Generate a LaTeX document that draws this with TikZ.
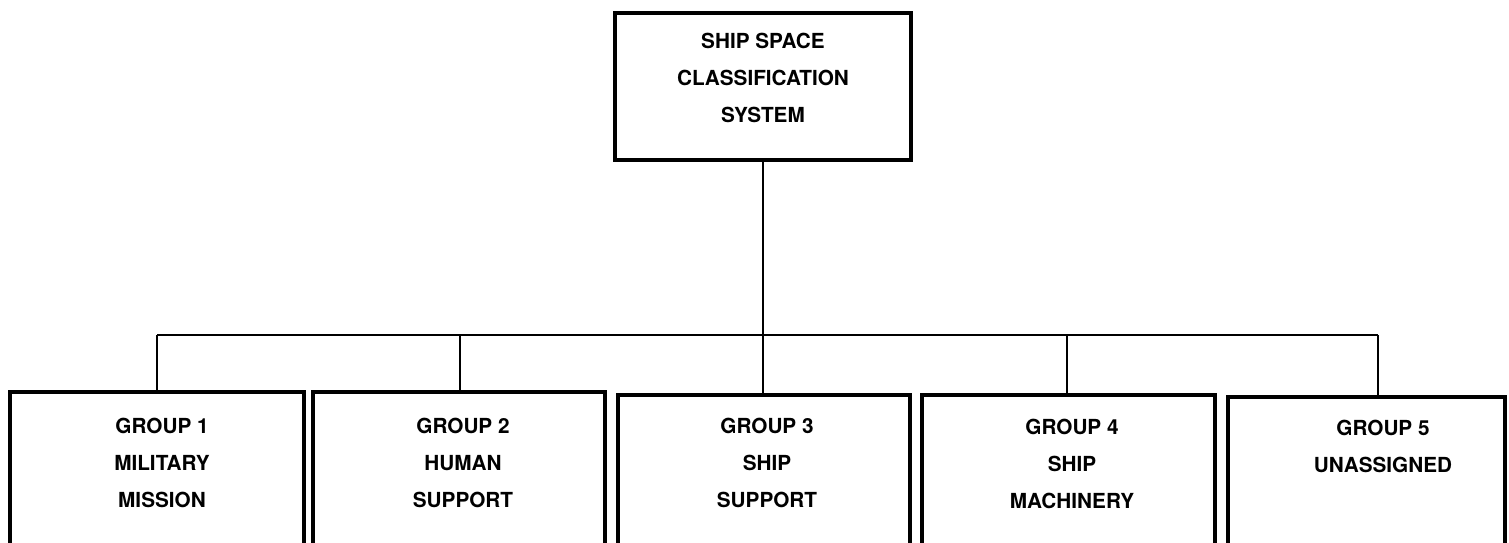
\documentclass[tikz,border=0pt]{standalone}
\usepackage{fontspec}
\setmainfont{TeX Gyre Heros}
\begin{document}
\begin{tikzpicture}[x=1cm,y=1cm,
  boxstyle/.style={draw=black, line width=2pt, inner sep=0pt, outer sep=0pt},
  conn/.style={draw=black, line width=1.1pt},
  lbl/.style={anchor=base, align=center, inner sep=0pt,
    font=\fontsize{11.8}{20.8}\selectfont\bfseries}]
\useasboundingbox[fill=white] (0,0) rectangle (30.18,-10.84);
\begin{scope}
\clip (0,0) rectangle (30.18,-10.84);
% boxes (bottom edges run off the page, as in the reference)
\node[boxstyle, minimum width=5.92cm, minimum height=2.94cm] (top) at (15.26,-1.73) {};
\node[boxstyle, minimum width=5.88cm, minimum height=3.16cm] (g1) at (3.14,-9.42) {};
\node[boxstyle, minimum width=5.84cm, minimum height=3.16cm] (g2) at (9.18,-9.42) {};
\node[boxstyle, minimum width=5.84cm, minimum height=3.10cm] (g3) at (15.28,-9.45) {};
\node[boxstyle, minimum width=5.86cm, minimum height=3.10cm] (g4) at (21.37,-9.45) {};
\node[boxstyle, minimum width=5.54cm, minimum height=3.06cm] (g5) at (27.33,-9.47) {};
\end{scope}
% texts (anchor = baseline of last line)
\node[lbl] (ttop) at (15.26,-2.44) {SHIP SPACE\\CLASSIFICATION\\SYSTEM};
\node[lbl] (t1) at (3.24,-10.14) {GROUP 1\\MILITARY\\MISSION};
\node[lbl] (t2) at (9.26,-10.14) {GROUP 2\\HUMAN\\SUPPORT};
\node[lbl] (t3) at (15.34,-10.14) {GROUP 3\\SHIP\\SUPPORT};
\node[lbl] (t4) at (21.44,-10.16) {GROUP 4\\SHIP\\MACHINERY};
\node[lbl] (t5) at (27.66,-9.44) {GROUP 5\\UNASSIGNED};
% connectors
\coordinate (b1) at (3.14,-6.70);
\coordinate (b2) at (9.20,-6.70);
\coordinate (b4) at (21.34,-6.70);
\coordinate (b5) at (27.56,-6.70);
\draw[conn] (top.south) -- (top.south |- g3.north);
\draw[conn] (b1) -- (b5);
\draw[conn] (b1) -- (b1 |- g1.north);
\draw[conn] (b2) -- (b2 |- g2.north);
\draw[conn] (b4) -- (b4 |- g4.north);
\draw[conn] (b5) -- (b5 |- g5.north);
\end{tikzpicture}
\end{document}
